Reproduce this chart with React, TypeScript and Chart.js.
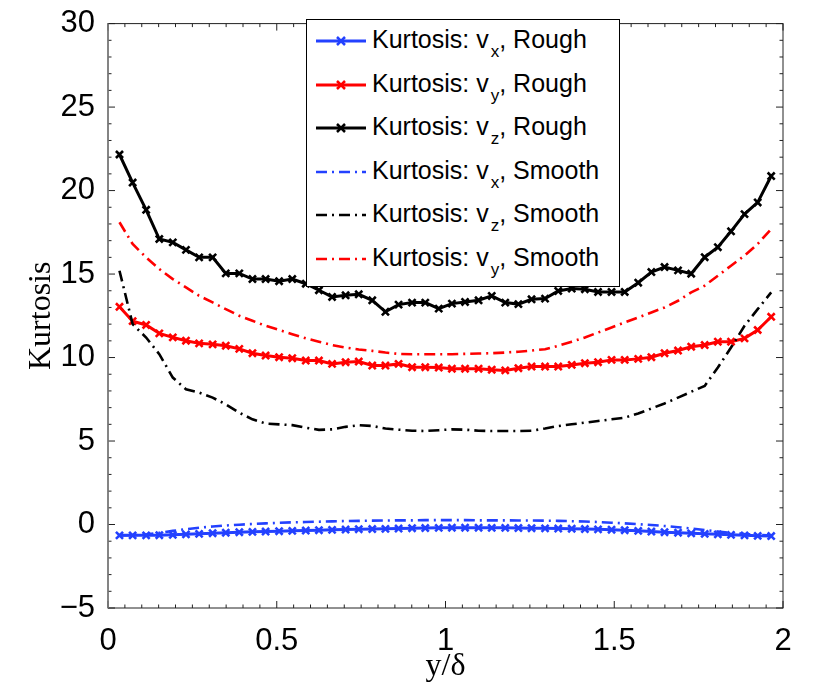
import React, { useEffect, useRef } from 'react';
import { Chart, registerables } from 'chart.js';

Chart.register(...registerables);

// wall-normal positions y/delta
const yDelta = [
  0.034, 0.073, 0.113, 0.152, 0.192, 0.231, 0.270, 0.310, 0.349, 0.389,
  0.428, 0.467, 0.507, 0.546, 0.586, 0.625, 0.664, 0.704, 0.743, 0.783,
  0.822, 0.861, 0.901, 0.940, 0.980, 1.019, 1.058, 1.098, 1.137, 1.177,
  1.216, 1.255, 1.295, 1.334, 1.374, 1.413, 1.452, 1.492, 1.531, 1.571,
  1.610, 1.649, 1.689, 1.728, 1.768, 1.807, 1.846, 1.886, 1.925, 1.965,
];

const kxRough = [
  -0.65, -0.65, -0.65, -0.64, -0.62, -0.59, -0.56, -0.52, -0.49, -0.46,
  -0.44, -0.42, -0.40, -0.38, -0.36, -0.34, -0.32, -0.30, -0.28, -0.27,
  -0.26, -0.24, -0.22, -0.21, -0.20, -0.19, -0.19, -0.19, -0.20, -0.20,
  -0.21, -0.22, -0.23, -0.24, -0.25, -0.27, -0.29, -0.31, -0.34, -0.38,
  -0.42, -0.46, -0.49, -0.53, -0.56, -0.59, -0.62, -0.65, -0.68, -0.69,
];

const kyRough = [
  13.04, 12.18, 11.95, 11.45, 11.21, 11.01, 10.85, 10.79, 10.71, 10.52,
  10.26, 10.12, 10.02, 9.96, 9.82, 9.82, 9.62, 9.72, 9.76, 9.52,
  9.52, 9.62, 9.42, 9.42, 9.40, 9.33, 9.33, 9.33, 9.27, 9.23,
  9.36, 9.46, 9.46, 9.46, 9.56, 9.66, 9.72, 9.86, 9.86, 9.92,
  10.02, 10.26, 10.42, 10.65, 10.75, 10.95, 10.95, 11.15, 11.65, 12.44,
];

const kzRough = [
  22.16, 20.48, 18.85, 17.10, 16.90, 16.45, 16.00, 16.00, 15.04, 15.04,
  14.70, 14.70, 14.57, 14.70, 14.42, 14.03, 13.63, 13.73, 13.79, 13.43,
  12.74, 13.17, 13.29, 13.29, 12.93, 13.23, 13.33, 13.43, 13.69, 13.29,
  13.20, 13.49, 13.53, 13.99, 14.13, 14.09, 13.93, 13.93, 13.93, 14.48,
  15.12, 15.42, 15.22, 15.02, 16.01, 16.61, 17.56, 18.59, 19.29, 20.87,
];

const kxSmooth = [
  -0.66, -0.64, -0.60, -0.50, -0.38, -0.28, -0.19, -0.12, -0.06, -0.01,
  0.03, 0.07, 0.10, 0.13, 0.15, 0.17, 0.19, 0.21, 0.22, 0.23,
  0.24, 0.25, 0.25, 0.26, 0.26, 0.26, 0.26, 0.25, 0.25, 0.25,
  0.24, 0.24, 0.23, 0.22, 0.20, 0.18, 0.15, 0.11, 0.07, 0.02,
  -0.03, -0.09, -0.16, -0.24, -0.33, -0.42, -0.50, -0.57, -0.62, -0.66,
];

const kzSmooth = [
  15.2, 12.0, 11.2, 10.2, 8.8, 8.1, 7.9, 7.6, 7.2, 6.7,
  6.3, 6.05, 6.0, 5.95, 5.8, 5.67, 5.7, 5.85, 5.95, 5.9,
  5.75, 5.68, 5.62, 5.6, 5.65, 5.7, 5.68, 5.62, 5.6, 5.6,
  5.6, 5.62, 5.75, 5.9, 6.0, 6.1, 6.2, 6.3, 6.4, 6.65,
  6.95, 7.25, 7.6, 7.95, 8.3, 9.4, 10.6, 11.9, 12.9, 13.9,
];

const kySmooth = [
  18.1, 16.8, 16.0, 15.3, 14.7, 14.2, 13.7, 13.3, 12.9, 12.5,
  12.2, 11.9, 11.65, 11.4, 11.15, 10.95, 10.75, 10.6, 10.48, 10.4,
  10.3, 10.22, 10.2, 10.2, 10.2, 10.2, 10.22, 10.24, 10.26, 10.3,
  10.35, 10.42, 10.5, 10.7, 10.95, 11.2, 11.5, 11.8, 12.1, 12.4,
  12.7, 13.0, 13.4, 13.9, 14.3, 14.9, 15.5, 16.1, 16.8, 17.7,
];

const xTicks = [0, 0.5, 1, 1.5, 2];
const yTicks = [-5, 0, 5, 10, 15, 20, 25, 30];

const BLUE = '#2341ff';
const RED = '#ff0000';
const BLACK = '#000000';
const DASH_DOT = [11, 5, 2, 5];

const series = [
  { sub: 'x', kind: 'Rough', color: BLUE, values: kxRough, rough: true },
  { sub: 'y', kind: 'Rough', color: RED, values: kyRough, rough: true },
  { sub: 'z', kind: 'Rough', color: BLACK, values: kzRough, rough: true },
  { sub: 'x', kind: 'Smooth', color: BLUE, values: kxSmooth, rough: false },
  { sub: 'z', kind: 'Smooth', color: BLACK, values: kzSmooth, rough: false },
  { sub: 'y', kind: 'Smooth', color: RED, values: kySmooth, rough: false },
];

const sans = '"Liberation Sans", Arial, Helvetica, sans-serif';
const serif = '"Liberation Serif", "Times New Roman", Times, serif';

// inward ticks on all four sides + the box
const frameTicks = {
  id: 'frameTicks',
  afterDatasetsDraw(chart: any) {
    const { ctx, chartArea: a, scales } = chart;
    const x = scales.x;
    const y = scales.y;
    ctx.save();
    ctx.strokeStyle = '#222';
    ctx.lineWidth = 1;
    ctx.beginPath();
    for (let i = 0; i <= 40; i++) {
      const px = x.getPixelForValue(i * 0.05);
      const len = i % 10 === 0 ? 7 : 3.5;
      ctx.moveTo(px, a.bottom);
      ctx.lineTo(px, a.bottom - len);
      ctx.moveTo(px, a.top);
      ctx.lineTo(px, a.top + len);
    }
    for (let v = -5; v <= 30; v++) {
      const py = y.getPixelForValue(v);
      const len = v % 5 === 0 ? 7 : 3.5;
      ctx.moveTo(a.left, py);
      ctx.lineTo(a.left + len, py);
      ctx.moveTo(a.right, py);
      ctx.lineTo(a.right - len, py);
    }
    ctx.stroke();
    ctx.strokeRect(a.left, a.top, a.right - a.left, a.bottom - a.top);
    ctx.strokeStyle = '#808080';
    ctx.lineWidth = 1.5;
    ctx.beginPath();
    ctx.moveTo(a.left, a.top);
    ctx.lineTo(a.left, a.bottom);
    ctx.stroke();
    ctx.restore();
  },
};

const LegendSample: React.FC<{ color: string; rough: boolean }> = ({ color, rough }) => (
  <svg width={52} height={20} style={{ display: 'block' }}>
    <line
      x1={1}
      y1={10}
      x2={51}
      y2={10}
      stroke={color}
      strokeWidth={rough ? 3 : 2.6}
      strokeDasharray={rough ? undefined : DASH_DOT.join(' ')}
    />
    {rough && (
      <path d="M22 6 L30 14 M22 14 L30 6" stroke={color} strokeWidth={2.5} />
    )}
  </svg>
);

export default function App() {
  const canvasRef = useRef<HTMLCanvasElement>(null);
  const chartRef = useRef<Chart | null>(null);

  useEffect(() => {
    document.body.style.margin = '0';
    if (!canvasRef.current) return;
    if (chartRef.current) chartRef.current.destroy();

    chartRef.current = new Chart(canvasRef.current, {
      type: 'line',
      data: {
        datasets: series.map((s, i) => ({
          label: `Kurtosis: v${s.sub}, ${s.kind}`,
          data: yDelta.map((x, k) => ({ x, y: s.values[k] })),
          borderColor: s.color,
          backgroundColor: s.color,
          borderWidth: s.rough ? 3 : 2.6,
          borderDash: s.rough ? [] : DASH_DOT,
          pointStyle: 'crossRot',
          pointRadius: s.rough ? 5 : 0,
          pointBorderWidth: 2.6,
          pointBorderColor: s.color,
          tension: 0,
          fill: false,
          order: series.length - 1 - i,
        })),
      },
      options: {
        responsive: false,
        animation: false,
        events: [],
        layout: { padding: { left: 0, right: 47, top: 20, bottom: 0 } },
        plugins: {
          legend: { display: false },
          tooltip: { enabled: false },
        },
        scales: {
          x: {
            type: 'linear',
            min: 0,
            max: 2,
            grid: { display: false },
            border: { display: false },
            afterBuildTicks: (s: any) => {
              s.ticks = xTicks.map((v) => ({ value: v }));
            },
            afterFit: (s: any) => {
              s.height = 91;
            },
            ticks: {
              color: '#000',
              padding: 7,
              maxRotation: 0,
              font: { family: sans, size: 31 },
              callback: (v: any) => String(v),
            },
            title: {
              display: true,
              text: 'y/δ',
              color: '#000',
              font: { family: serif, size: 32 },
              padding: { top: 0, bottom: 13 },
            },
          },
          y: {
            type: 'linear',
            min: -5,
            max: 30,
            grid: { display: false },
            border: { display: false },
            afterBuildTicks: (s: any) => {
              s.ticks = yTicks.map((v) => ({ value: v }));
            },
            afterFit: (s: any) => {
              s.width = 108;
            },
            ticks: {
              color: '#000',
              padding: 5,
              font: { family: sans, size: 31 },
              callback: (v: any) => (v < 0 ? '\u2212' + Math.abs(v) : String(v)),
            },
            title: {
              display: true,
              text: 'Kurtosis',
              color: '#000',
              font: { family: serif, size: 32 },
              padding: { top: 22, bottom: 0 },
            },
          },
        },
      },
      plugins: [frameTicks],
    });

    return () => {
      if (chartRef.current) {
        chartRef.current.destroy();
        chartRef.current = null;
      }
    };
  }, []);

  return (
    <div style={{ position: 'relative', width: 830, height: 699, background: '#fff' }}>
      <canvas ref={canvasRef} width={830} height={699} style={{ display: 'block' }}></canvas>

      {/* Legend, drawn over the plot like an opaque box */}
      <div
        style={{
          position: 'absolute',
          left: 306,
          top: 19,
          width: 314,
          height: 268,
          boxSizing: 'border-box',
          border: '1px solid #000',
          background: '#fff',
          fontFamily: sans,
          fontSize: 25,
          color: '#000',
        }}
      >
        {series.map((s, i) => (
          <div
            key={i}
            style={{
              position: 'absolute',
              left: 8,
              top: i * 43.6,
              height: 42,
              display: 'flex',
              alignItems: 'center',
              whiteSpace: 'nowrap',
            }}
          >
            <LegendSample color={s.color} rough={s.rough} />
            <span style={{ marginLeft: 5, lineHeight: '25px' }}>
              Kurtosis: v
              <span style={{ fontSize: 17, position: 'relative', top: 9, marginLeft: 2 }}>{s.sub}</span>
              ,{'\u00a0'}{s.kind}
            </span>
          </div>
        ))}
      </div>
    </div>
  );
}
